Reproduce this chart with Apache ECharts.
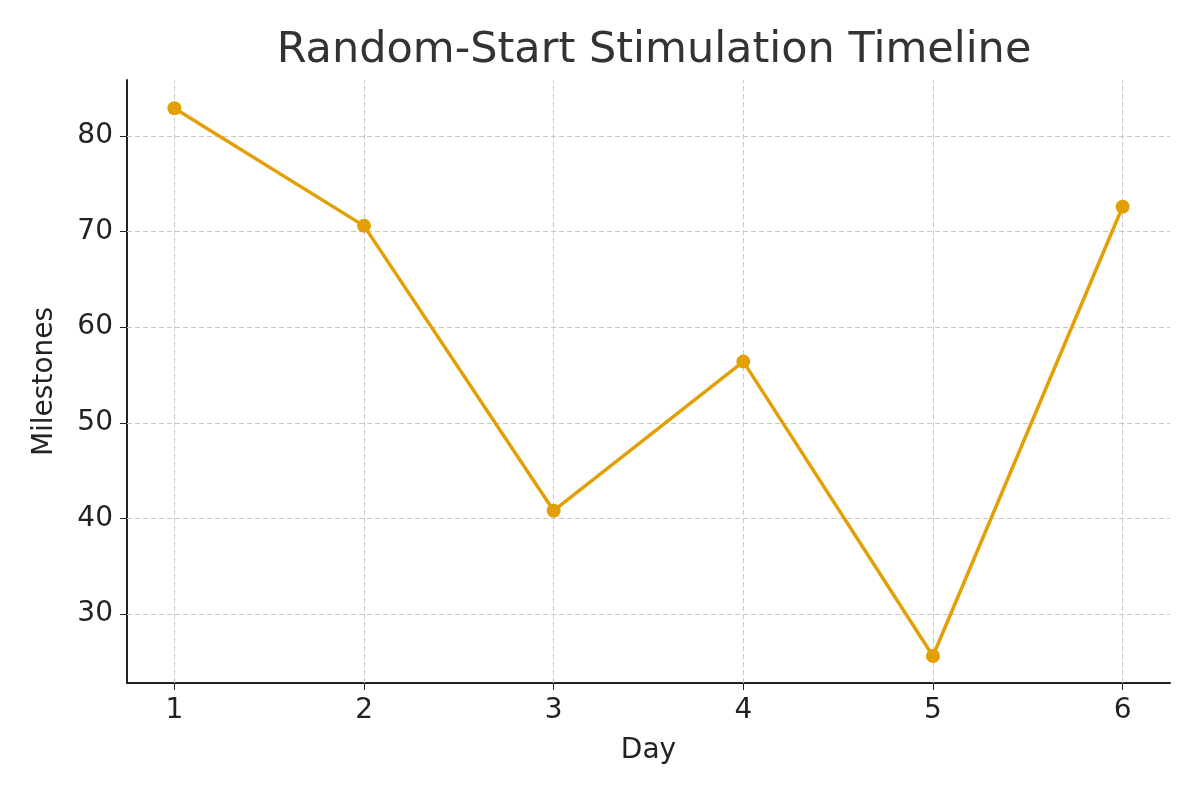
<!DOCTYPE html>
<html>
<head>
<meta charset="utf-8">
<script src="https://cdn.jsdelivr.net/npm/echarts@6/dist/echarts.min.js"></script>
<style>html,body{margin:0;background:#fff}#chart{width:1200px;height:800px}</style>
</head>
<body>
<div id="chart"></div>
<script>
var days = [1, 2, 3, 4, 5, 6];
var milestones = [82.9, 70.6, 40.8, 56.4, 25.6, 72.6];
var yTicks = [30, 40, 50, 60, 70, 80];

var chart = echarts.init(document.getElementById('chart'));
var grid = { color: '#c8c8c8', type: [5, 3], width: 1 };

chart.setOption({
  animation: false,
  textStyle: { fontFamily: 'DejaVu Sans' },
  title: {
    text: 'Random-Start Stimulation Timeline',
    left: 649, textAlign: 'center', top: 24,
    textStyle: { fontSize: 43, fontWeight: 'normal', color: '#333' }
  },
  grid: { left: 127, right: 30, top: 80, bottom: 117 },
  xAxis: {
    type: 'value', min: 0.75, max: 6.25,
    name: 'Day', nameLocation: 'middle', nameGap: 54,
    nameTextStyle: { fontSize: 28, color: '#222' },
    axisLine: { lineStyle: { color: '#222', width: 2 } },
    axisTick: { customValues: days, length: 7, lineStyle: { color: '#222' } },
    axisLabel: { customValues: days, fontSize: 28, color: '#222', margin: 14 },
    splitLine: { show: false }
  },
  yAxis: {
    type: 'value', min: 22.78, max: 85.86,
    name: 'Milestones', nameLocation: 'middle', nameGap: 68,
    nameTextStyle: { fontSize: 28, color: '#222' },
    axisLine: { show: true, lineStyle: { color: '#222', width: 2 } },
    axisTick: { show: true, customValues: yTicks, length: 7, lineStyle: { color: '#222' } },
    axisLabel: { customValues: yTicks, fontSize: 28, color: '#222', margin: 14 },
    splitLine: { show: false }
  },
  series: [{
    type: 'line',
    data: days.map(function (d, i) { return [d, milestones[i]]; }),
    lineStyle: { color: '#E3A006', width: 3.5 },
    itemStyle: { color: '#E3A006' },
    symbol: 'circle', symbolSize: 14,
    z: 5,
    markLine: {
      silent: true, symbol: 'none', label: { show: false },
      lineStyle: grid, z: 1,
      data: days.map(function (d) { return { xAxis: d }; })
        .concat(yTicks.map(function (v) { return { yAxis: v }; }))
    }
  }]
});
</script>
</body>
</html>
